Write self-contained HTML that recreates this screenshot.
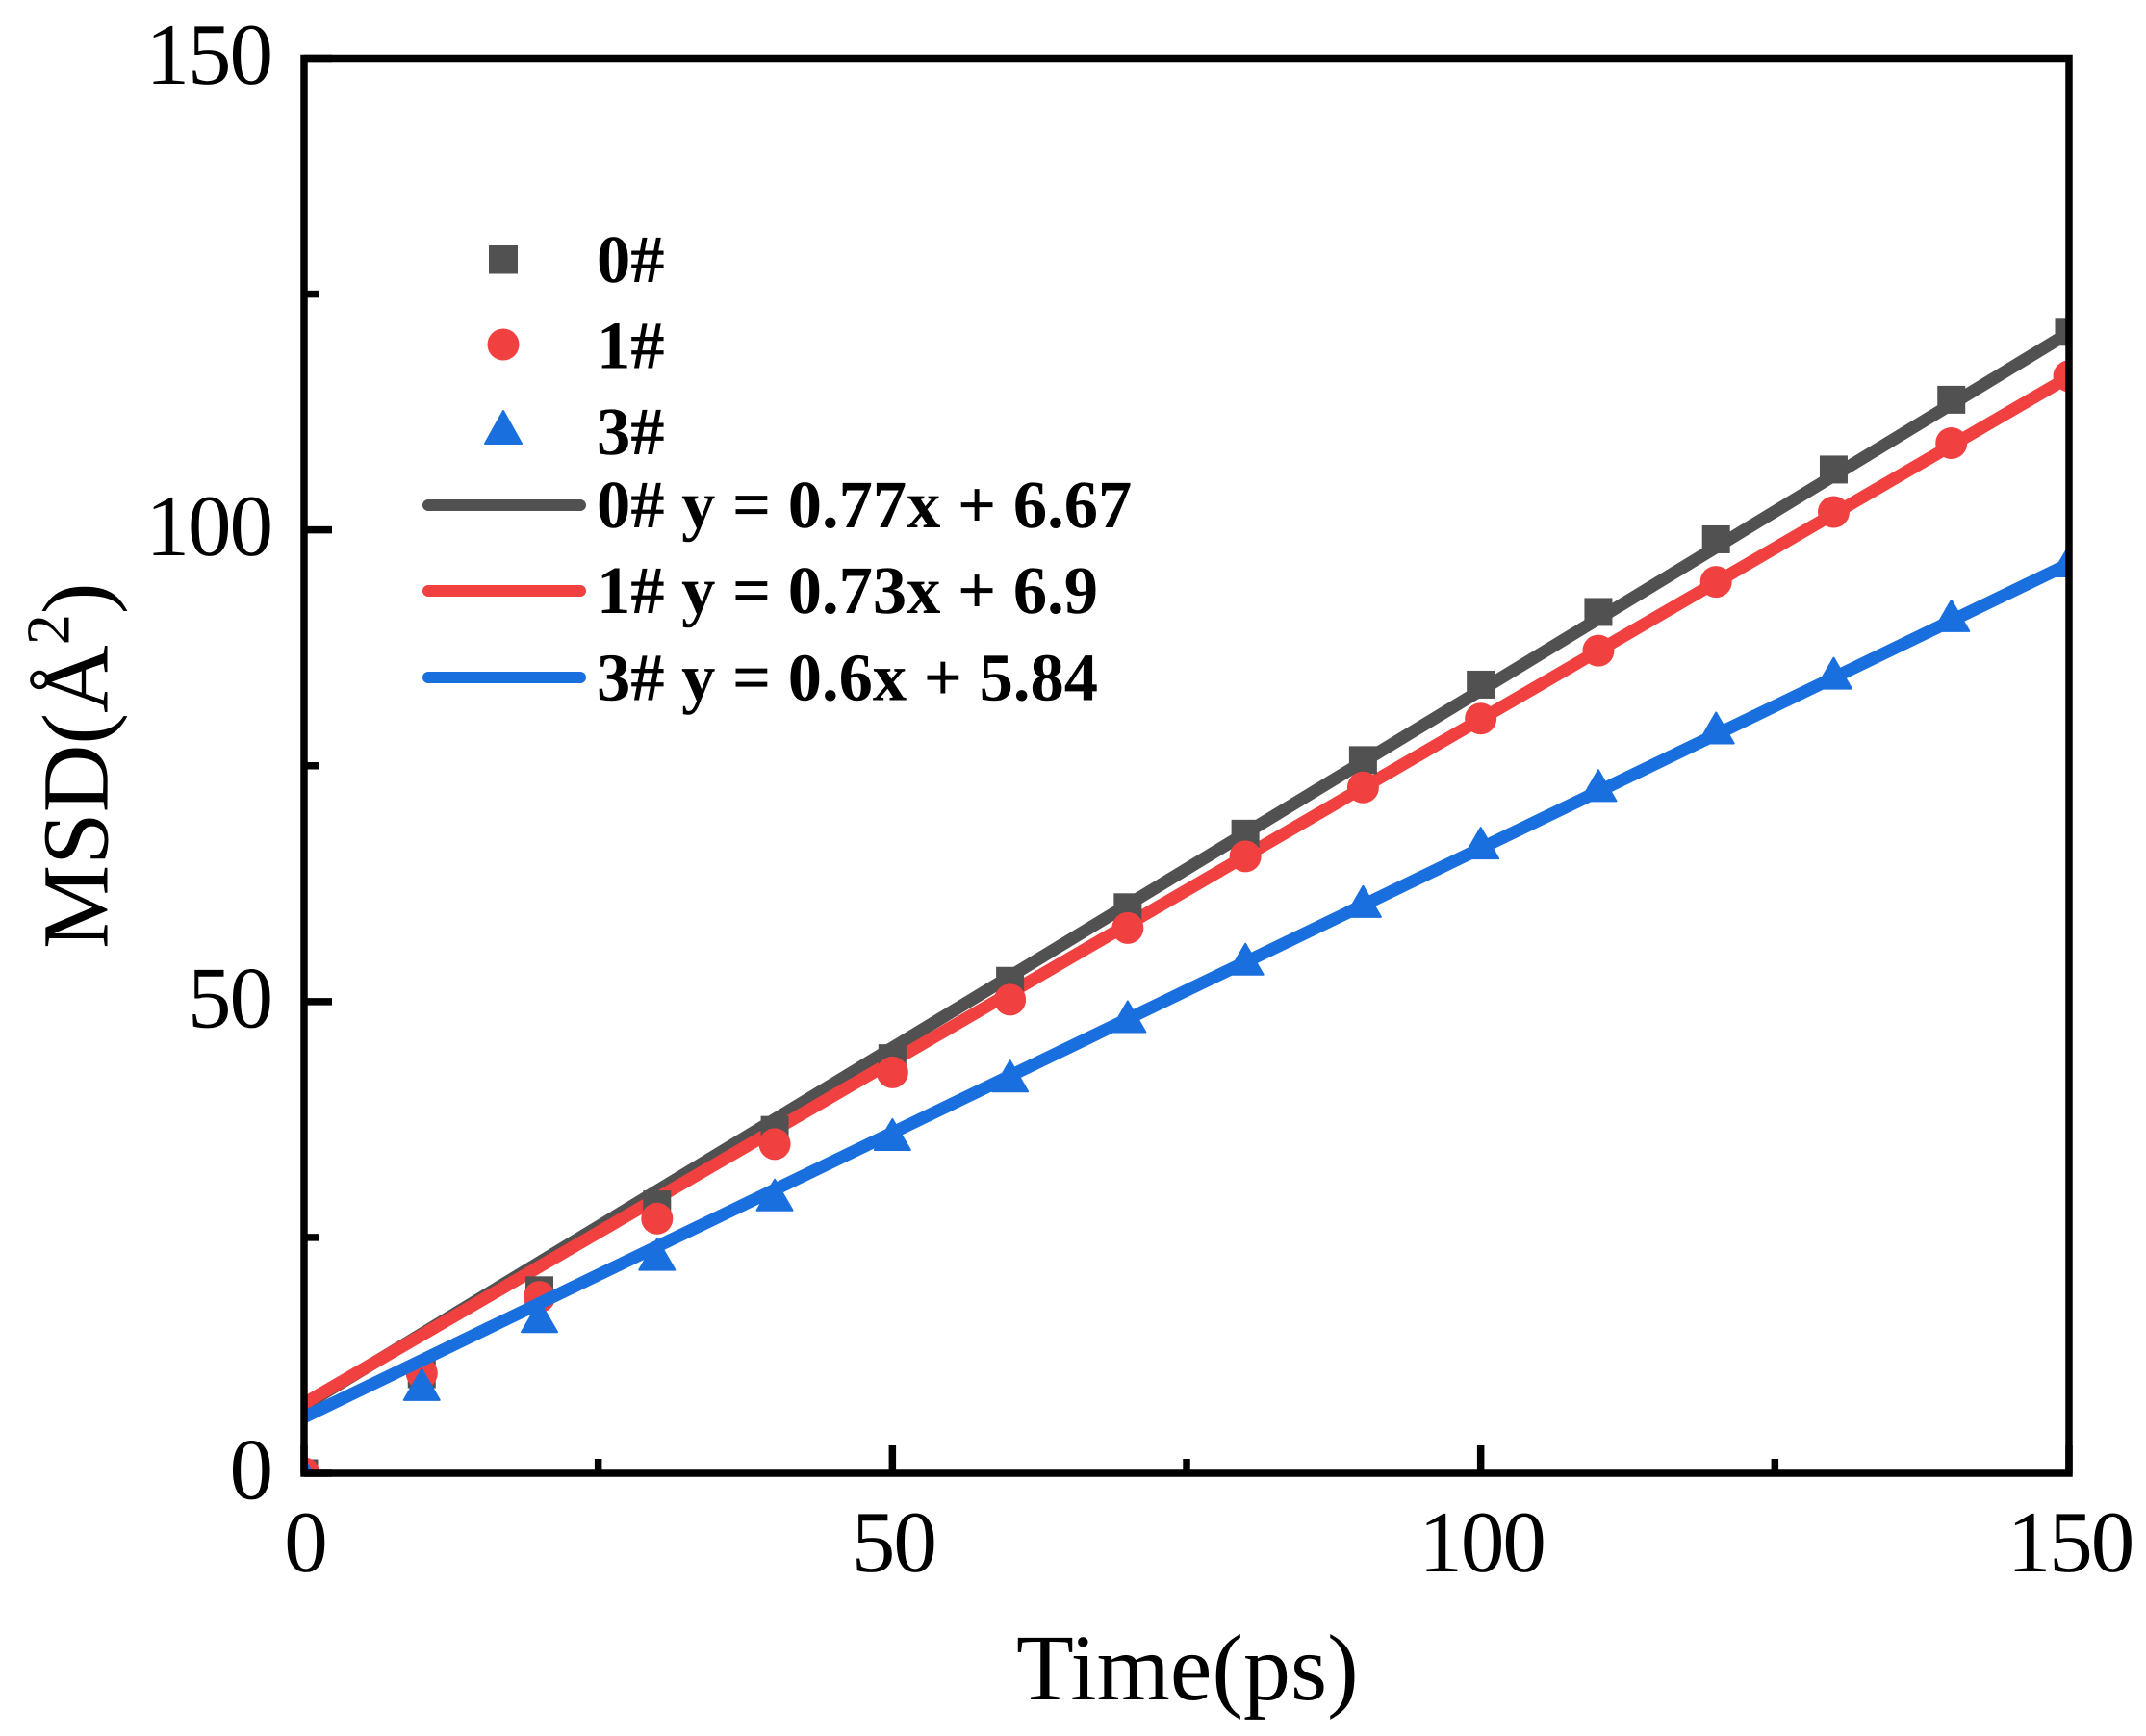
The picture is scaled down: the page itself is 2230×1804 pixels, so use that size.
<!DOCTYPE html>
<html lang="en">
<head>
<meta charset="utf-8">
<title>MSD vs Time</title>
<style>
html,body{margin:0;padding:0;background:#fff;}
svg{display:block;}
text{font-family:"Liberation Serif",serif;fill:#000;text-rendering:geometricPrecision;}
.tick{font-size:91px;letter-spacing:-2px;}
.leg{font-size:70.5px;font-weight:bold;}
.title{font-size:98px;}
</style>
</head>
<body>
<svg id="chart" xmlns="http://www.w3.org/2000/svg" width="2230" height="1804" viewBox="0 0 2230 1804">
  <rect x="0" y="0" width="2230" height="1804" fill="#fff"/>
  <defs>
    <clipPath id="plot-clip"><rect x="319.5" y="64" width="1827" height="1463.5"/></clipPath>
  </defs>
  <g id="plot" clip-path="url(#plot-clip)"></g>
  <rect x="316" y="60.5" width="1834" height="1470.5" fill="none" stroke="#000" stroke-width="7.5"/>
  <g id="ticks"></g>
  <g id="labels"></g>
  <text class="title" x="1056" y="1766">Time(ps)</text>
  <text class="title" transform="translate(111.7,986) rotate(-90)">MSD(Å<tspan font-size="64" dy="-40">2</tspan><tspan dy="40">)</tspan></text>
  <g>
    <rect x="508" y="255" width="30" height="29.5" fill="#515151"/>
    <circle cx="523" cy="358" r="16.5" fill="#F14040"/>
    <path d="M523 427L542 461H504Z" fill="#1A6FDF" stroke="#1A6FDF" stroke-width="2" stroke-linejoin="round"/>
    <text class="leg" x="620" y="293">0#</text>
    <text class="leg" x="620" y="382.5">1#</text>
    <text class="leg" x="620" y="472">3#</text>
    <line x1="445" y1="525" x2="603" y2="525" stroke="#515151" stroke-width="12" stroke-linecap="round"/>
    <line x1="445" y1="614" x2="603" y2="614" stroke="#F14040" stroke-width="12" stroke-linecap="round"/>
    <line x1="445" y1="704" x2="603" y2="704" stroke="#1A6FDF" stroke-width="12" stroke-linecap="round"/>
    <text class="leg" x="620" y="548">0# y = 0.77x + 6.67</text>
    <text class="leg" x="620" y="637">1# y = 0.73x + 6.9</text>
    <text class="leg" x="620" y="727.5">3# y = 0.6x + 5.84</text>
  </g>
</svg>
<script>
const timeValues = [0,10,20,30,40,50,60,70,80,90,100,110,120,130,140,150];
const series0 = [0,10.5,19.4,28.5,36.4,44,52.2,60,67.8,75.6,83.6,91.3,99,106.4,113.8,121];
const series1 = [0,10.6,18.7,27,34.9,42.5,50.2,57.8,65.4,72.7,80,87.2,94.5,101.9,109.2,116.3];
const series3 = [0,9.4,16.6,23.2,29.5,35.9,42.1,48.4,54.5,60.6,66.8,72.9,79,84.8,90.9,96.7];
const fit0 = [7.2,120.9];
const fit1 = [7.4,116.2];
const fit3 = [5.95,96.4];
const fitRange = [0,150];
const majorTicks = [0,50,100,150];
const minorTicks = [25,75,125];
const xTickLabels = ["0","50","100","150"];
const yTickLabels = ["0","50","100","150"];

const NS = "http://www.w3.org/2000/svg";
const GREY = "#515151", RED = "#F14040", BLUE = "#1A6FDF";
const xScale = v => 316 + (v - 0) * (2150 - 316) / 150;
const yScale = v => 1531 - (v - 0) * (1531 - 60.5) / 150;
const plot = document.getElementById("plot");
const ticks = document.getElementById("ticks");
const labels = document.getElementById("labels");

function make(tag, attrs, parent) {
  const el = document.createElementNS(NS, tag);
  for (const k in attrs) el.setAttribute(k, attrs[k]);
  parent.appendChild(el);
  return el;
}

function drawFit(fit, color, name) {
  const el = make("line", {x1: xScale(fitRange[0]), y1: yScale(fit[0]), x2: xScale(fitRange[1]), y2: yScale(fit[1]), stroke: color, "stroke-width": 13}, plot);
  
  
}

function drawSquares(values, color) {
  values.forEach((v, i) => {
    const cx = xScale(timeValues[i]), cy = yScale(v);
    const el = make("rect", {x: cx - 14.5, y: cy - 14.5, width: 29, height: 29, fill: color}, plot);
    
    
  });
}

function drawCircles(values, color) {
  values.forEach((v, i) => {
    const el = make("circle", {cx: xScale(timeValues[i]), cy: yScale(v), r: 16.5, fill: color}, plot);
    
    
  });
}

function drawTriangles(values, color) {
  values.forEach((v, i) => {
    const cx = xScale(timeValues[i]), cy = yScale(v);
    const d = "M" + cx + " " + (cy - 16) + "L" + (cx + 18.5) + " " + (cy + 16) + "H" + (cx - 18.5) + "Z";
    const el = make("path", {d: d, fill: color, stroke: color, "stroke-width": 2, "stroke-linejoin": "round"}, plot);
    
    
  });
}

drawFit(fit0, GREY, "fit-line-0");
drawFit(fit1, RED, "fit-line-1");
drawSquares(series0, GREY);
drawCircles(series1, RED);
drawFit(fit3, BLUE, "fit-line-3");
drawTriangles(series3, BLUE);

function drawTick(v, len, name) {
  const xt = make("line", {x1: xScale(v), y1: 1531, x2: xScale(v), y2: 1531 - len, stroke: "#000", "stroke-width": 7.5}, ticks);
  
  
  const yt = make("line", {x1: 316, y1: yScale(v), x2: 316 + len, y2: yScale(v), stroke: "#000", "stroke-width": 7.5}, ticks);
  
  
}
majorTicks.forEach(v => drawTick(v, 29, "major-tick"));
minorTicks.forEach(v => drawTick(v, 15, "minor-tick"));

majorTicks.forEach((v, i) => {
  const xl = make("text", {class: "tick", x: xScale(v) + 1, y: 1633, "text-anchor": "middle"}, labels);
  xl.textContent = xTickLabels[i];
  
  
  const yl = make("text", {class: "tick", x: 282, y: yScale(v) + 26.5, "text-anchor": "end"}, labels);
  yl.textContent = yTickLabels[i];
  
  
});
</script>
</body>
</html>
